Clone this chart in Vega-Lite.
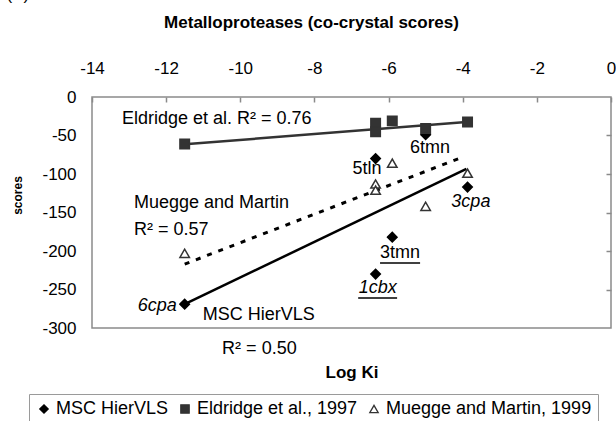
{
  "$schema": "https://vega.github.io/schema/vega-lite/v6.json",
  "width": 519,
  "height": 231,
  "autosize": {"type": "none"},
  "padding": {"left": 92, "top": 97, "right": 5, "bottom": 93},
  "background": "white",
  "title": {"text": "Metalloproteases (co-crystal scores)", "fontSize": 17, "fontWeight": "bold", "font": "Liberation Sans", "color": "black", "anchor": "middle", "dx": -40, "offset": 0, "dy": 46},
  "config": {
    "font": "Liberation Sans",
    "view": {"stroke": "#8a8a8a", "strokeWidth": 1.5},
    "axis": {"labelFont": "Liberation Sans", "labelFontSize": 17, "labelColor": "black", "tickColor": "#8a8a8a", "domainColor": "#8a8a8a", "grid": false, "titleFont": "Liberation Sans", "titleColor": "black"},
    "text": {"font": "Liberation Sans", "fontSize": 18, "color": "black"}
  },
  "datasets": {
    "points": [
      {"series": "MSC HierVLS", "x": -11.5, "y": -269},
      {"series": "MSC HierVLS", "x": -6.35, "y": -80},
      {"series": "MSC HierVLS", "x": -5.0, "y": -49},
      {"series": "MSC HierVLS", "x": -3.87, "y": -117},
      {"series": "MSC HierVLS", "x": -5.9, "y": -182},
      {"series": "MSC HierVLS", "x": -6.35, "y": -230},
      {"series": "Eldridge et al., 1997", "x": -11.5, "y": -61},
      {"series": "Eldridge et al., 1997", "x": -6.35, "y": -34},
      {"series": "Eldridge et al., 1997", "x": -6.35, "y": -45},
      {"series": "Eldridge et al., 1997", "x": -5.9, "y": -31},
      {"series": "Eldridge et al., 1997", "x": -5.0, "y": -41},
      {"series": "Eldridge et al., 1997", "x": -3.87, "y": -32.5},
      {"series": "Muegge and Martin, 1999", "x": -11.5, "y": -203},
      {"series": "Muegge and Martin, 1999", "x": -5.9, "y": -86},
      {"series": "Muegge and Martin, 1999", "x": -6.35, "y": -113},
      {"series": "Muegge and Martin, 1999", "x": -6.35, "y": -121},
      {"series": "Muegge and Martin, 1999", "x": -5.0, "y": -142},
      {"series": "Muegge and Martin, 1999", "x": -3.87, "y": -99}
    ],
    "trend_msc": [{"x": -11.5, "y": -269}, {"x": -3.9, "y": -93.5}],
    "trend_eld": [{"x": -11.5, "y": -61.5}, {"x": -3.9, "y": -32.5}],
    "trend_mm": [{"x": -11.5, "y": -217}, {"x": -4.0, "y": -78}],
    "annot": [
      {"x": -13.19, "y": -28.6, "label": "Eldridge et al. R² = 0.76"},
      {"x": -12.87, "y": -137.7, "label": "Muegge and Martin"},
      {"x": -12.87, "y": -172.7, "label": "R² = 0.57"},
      {"x": -11.01, "y": -283.1, "label": "MSC HierVLS"},
      {"x": -10.49, "y": -327.3, "label": "R² = 0.50"}
    ],
    "plain_labels": [
      {"x": -6.58, "y": -93.5, "label": "5tln"},
      {"x": -4.88, "y": -66.2, "label": "6tmn"},
      {"x": -5.69, "y": -202.6, "label": "3tmn"}
    ],
    "italic_labels": [
      {"x": -3.78, "y": -136.4, "label": "3cpa"},
      {"x": -6.29, "y": -248, "label": "1cbx"}
    ],
    "italic_right": [
      {"x": -11.71, "y": -271.4, "label": "6cpa"}
    ],
    "underlines": [
      {"x": -6.23, "x2": -5.15, "y": -215.6},
      {"x": -6.82, "x2": -5.77, "y": -261}
    ],
    "corner": [{"x": -16.0, "y": 132.5, "label": "(B)"}]
  },
  "layer": [
    {
      "data": {"name": "trend_eld"},
      "mark": {"type": "line", "color": "#333333", "strokeWidth": 2.5},
      "encoding": {
        "x": {"field": "x", "type": "quantitative", "scale": {"domain": [-14, 0], "nice": false, "zero": false},
          "axis": {"orient": "top", "values": [-14, -12, -10, -8, -6, -4, -2, 0], "title": null, "domain": false, "ticks": true, "tickSize": -5, "tickWidth": 1.5, "labelPadding": 25, "labelFlush": false, "labelOverlap": false, "labelExpr": "replace(datum.label, '−', '-')"}},
        "y": {"field": "y", "type": "quantitative", "scale": {"domain": [-300, 0], "nice": false, "zero": false},
          "axis": {"orient": "left", "values": [0, -50, -100, -150, -200, -250, -300], "ticks": false, "domain": false, "labelPadding": 16, "title": "scores", "titleFontSize": 12, "titleFontWeight": "bold", "titleX": -75, "titleY": 98, "titleBaseline": "middle", "labelFlush": false, "labelOverlap": false, "labelExpr": "replace(datum.label, '−', '-')"}}
      }
    },
    {
      "data": {"name": "trend_msc"},
      "mark": {"type": "line", "color": "black", "strokeWidth": 2.5},
      "encoding": {
        "x": {"field": "x", "type": "quantitative",
          "axis": {"orient": "bottom", "title": "Log Ki", "titleFontSize": 17, "titleFontWeight": "bold", "titlePadding": 36, "labels": false, "ticks": false, "domain": false}},
        "y": {"field": "y", "type": "quantitative",
          "axis": {"orient": "right", "values": [-50, -100, -150, -200, -250], "labels": false, "ticks": true, "tickSize": -5, "tickWidth": 1.5, "domain": false, "title": null}}
      }
    },
    {
      "data": {"name": "trend_mm"},
      "mark": {"type": "line", "color": "black", "strokeWidth": 3, "strokeDash": [5, 7]},
      "encoding": {
        "x": {"field": "x", "type": "quantitative", "axis": null},
        "y": {"field": "y", "type": "quantitative", "axis": null}
      }
    },
    {
      "data": {"name": "points"},
      "mark": {"type": "point", "size": 90, "strokeWidth": 1.5, "opacity": 1, "filled": false},
      "encoding": {
        "x": {"field": "x", "type": "quantitative", "axis": null},
        "y": {"field": "y", "type": "quantitative", "axis": null},
        "shape": {"field": "series", "type": "nominal", "title": null,
          "scale": {"domain": ["MSC HierVLS", "Eldridge et al., 1997", "Muegge and Martin, 1999"], "range": ["diamond", "square", "triangle-up"]},
          "legend": {"orient": "none", "legendX": -63, "legendY": 297, "direction": "horizontal", "strokeColor": "#9a9a9a", "fillColor": "white", "padding": 6, "labelFontSize": 18, "labelFont": "Liberation Sans", "labelColor": "black", "labelLimit": 400, "symbolSize": 70, "symbolStrokeWidth": 1.3, "labelOffset": 3, "columnPadding": 7, "symbolOpacity": 1}},
        "fill": {"field": "series", "type": "nominal", "title": null,
          "scale": {"domain": ["MSC HierVLS", "Eldridge et al., 1997", "Muegge and Martin, 1999"], "range": ["black", "#333333", "white"]}},
        "stroke": {"field": "series", "type": "nominal", "title": null,
          "scale": {"domain": ["MSC HierVLS", "Eldridge et al., 1997", "Muegge and Martin, 1999"], "range": ["black", "#333333", "#333333"]}}
      }
    },
    {
      "data": {"name": "annot"},
      "mark": {"type": "text", "align": "left", "baseline": "middle"},
      "encoding": {
        "x": {"field": "x", "type": "quantitative", "axis": null},
        "y": {"field": "y", "type": "quantitative", "axis": null},
        "text": {"field": "label"}
      }
    },
    {
      "data": {"name": "plain_labels"},
      "mark": {"type": "text", "align": "center", "baseline": "middle"},
      "encoding": {
        "x": {"field": "x", "type": "quantitative", "axis": null},
        "y": {"field": "y", "type": "quantitative", "axis": null},
        "text": {"field": "label"}
      }
    },
    {
      "data": {"name": "italic_labels"},
      "mark": {"type": "text", "align": "center", "baseline": "middle", "fontStyle": "italic"},
      "encoding": {
        "x": {"field": "x", "type": "quantitative", "axis": null},
        "y": {"field": "y", "type": "quantitative", "axis": null},
        "text": {"field": "label"}
      }
    },
    {
      "data": {"name": "italic_right"},
      "mark": {"type": "text", "align": "right", "baseline": "middle", "fontStyle": "italic"},
      "encoding": {
        "x": {"field": "x", "type": "quantitative", "axis": null},
        "y": {"field": "y", "type": "quantitative", "axis": null},
        "text": {"field": "label"}
      }
    },
    {
      "data": {"name": "underlines"},
      "mark": {"type": "rule", "color": "black", "strokeWidth": 1.5},
      "encoding": {
        "x": {"field": "x", "type": "quantitative", "axis": null},
        "x2": {"field": "x2"},
        "y": {"field": "y", "type": "quantitative", "axis": null}
      }
    },
    {
      "data": {"name": "corner"},
      "mark": {"type": "text", "align": "center", "baseline": "middle", "fontSize": 17},
      "encoding": {
        "x": {"field": "x", "type": "quantitative", "axis": null},
        "y": {"field": "y", "type": "quantitative", "axis": null},
        "text": {"field": "label"}
      }
    }
  ],
  "resolve": {"axis": {"x": "independent", "y": "independent"}}
}
